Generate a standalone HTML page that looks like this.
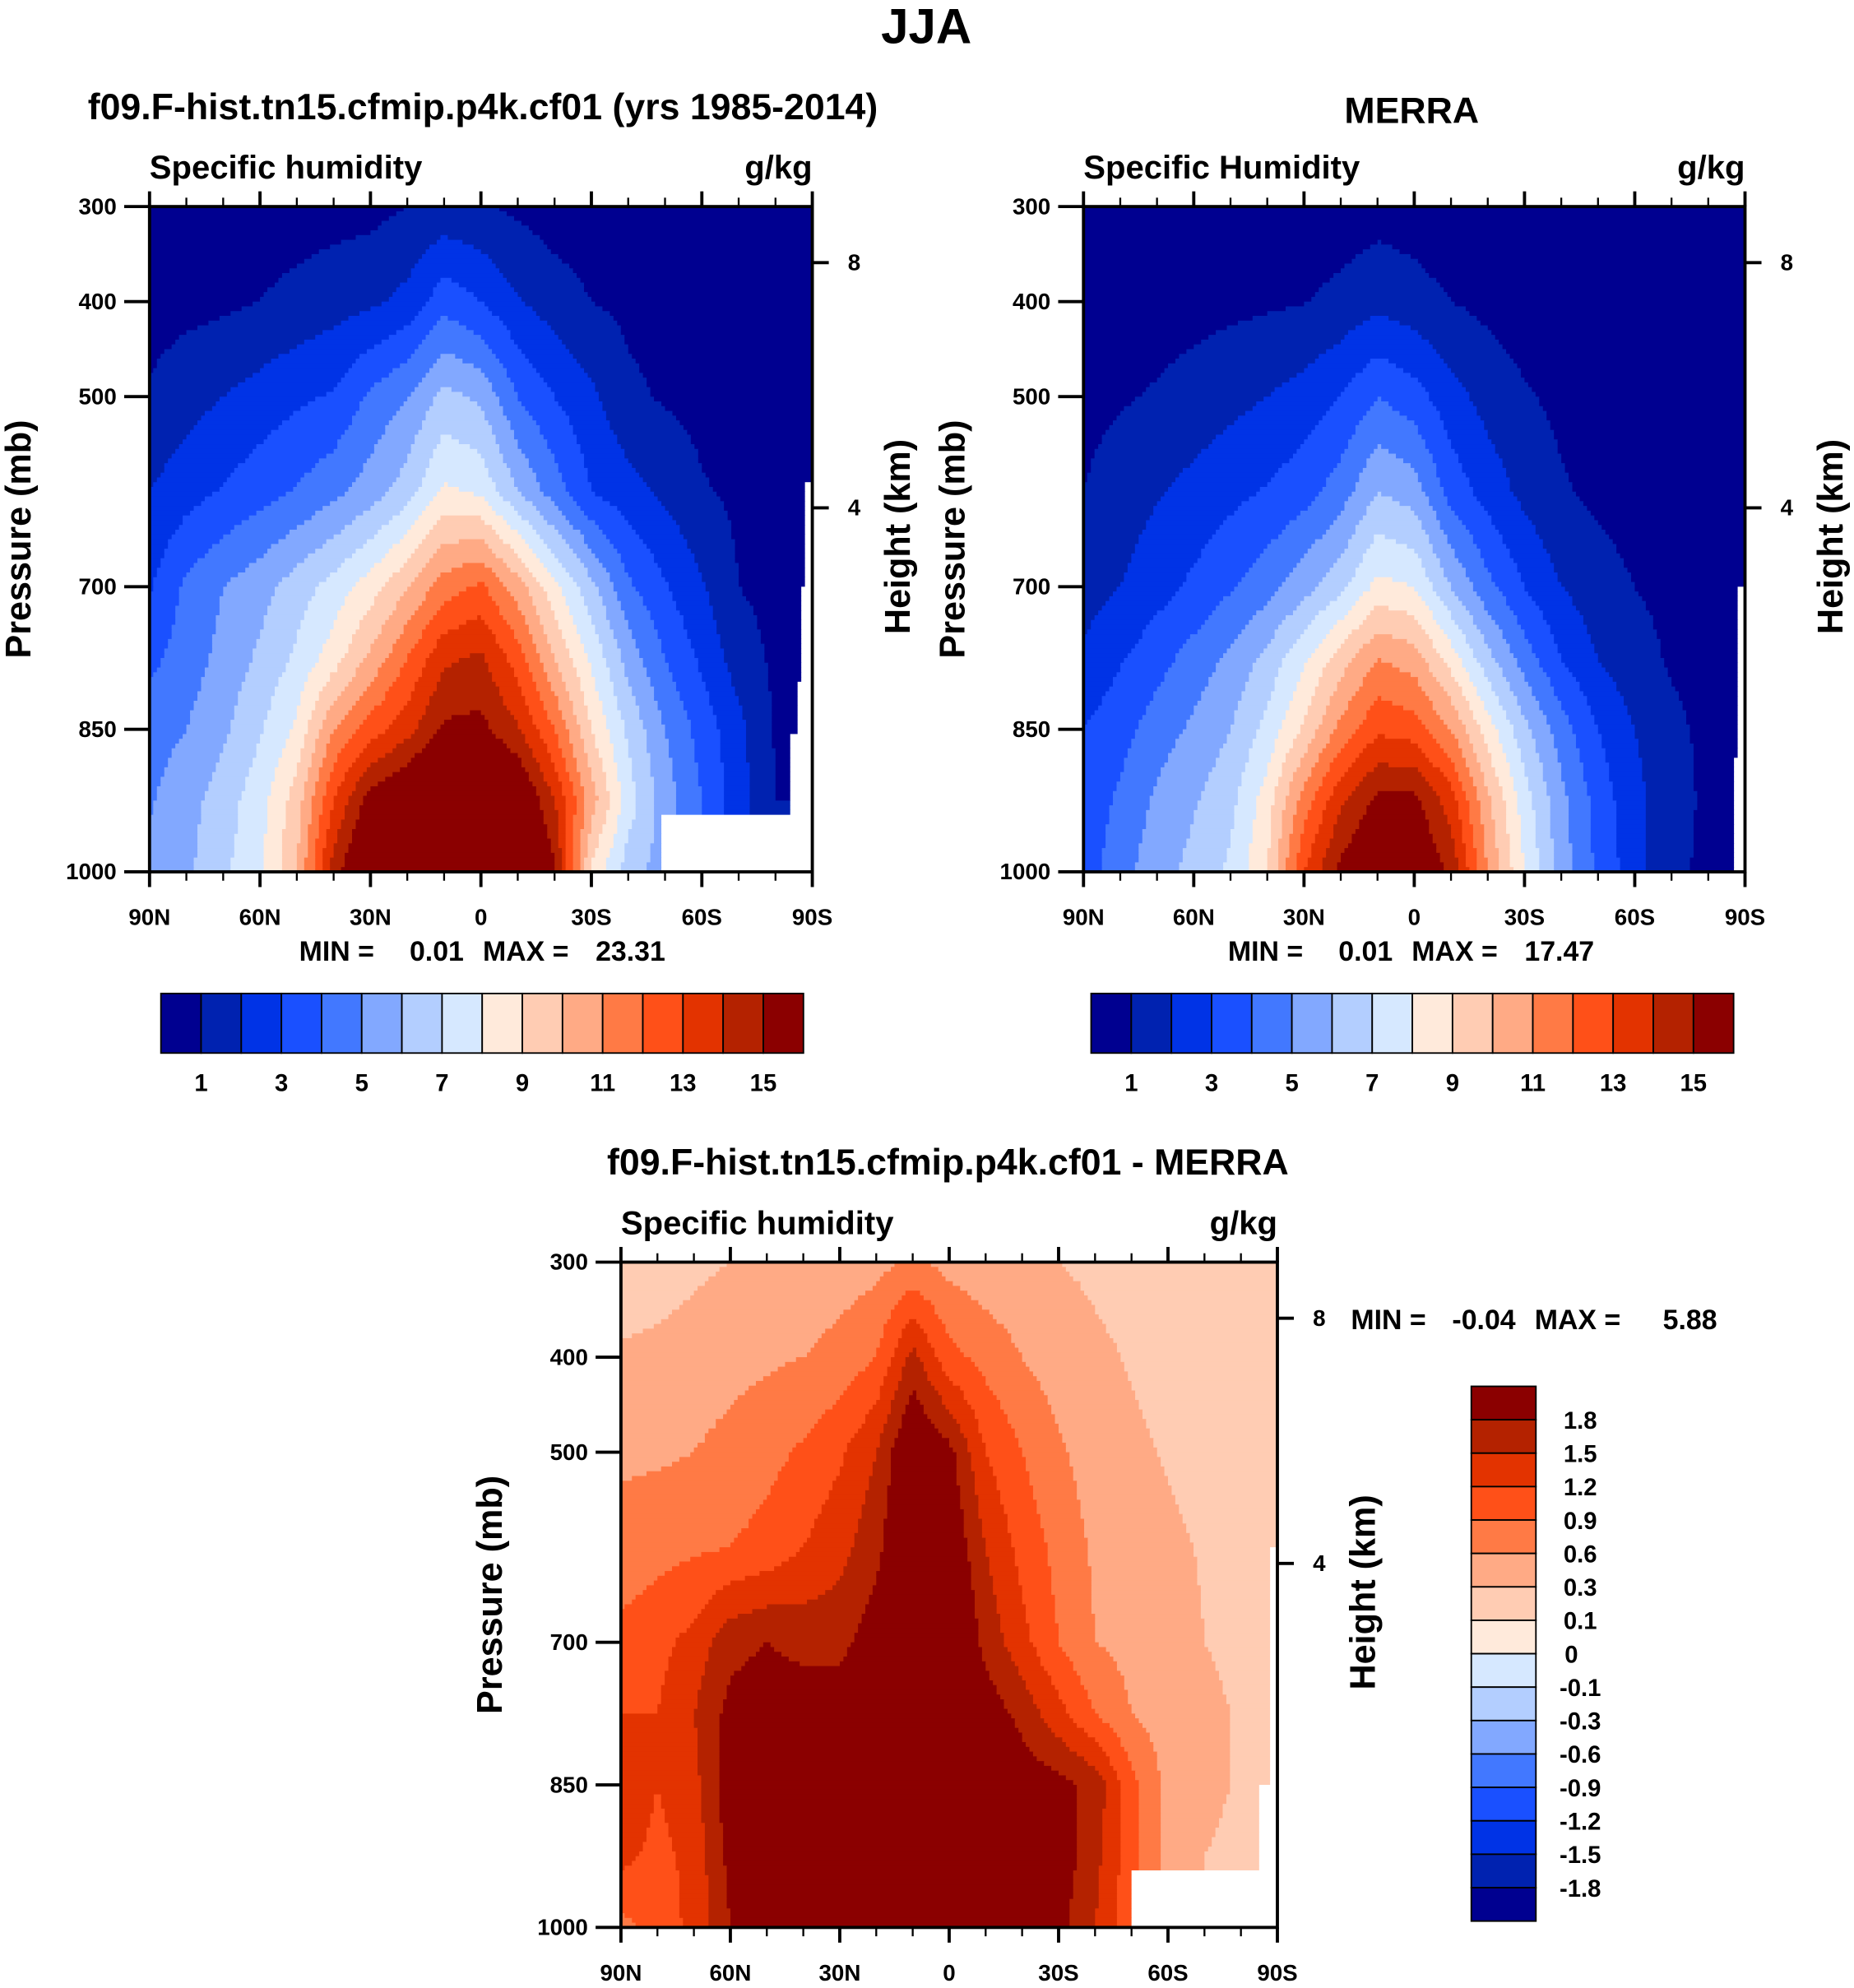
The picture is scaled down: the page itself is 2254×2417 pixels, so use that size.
<!DOCTYPE html>
<html><head><meta charset="utf-8"><style>
html,body{margin:0;padding:0;background:#fff}
svg{display:block}
text{font-family:"Liberation Sans",Arial,sans-serif;font-weight:bold;fill:#000}
</style></head><body>
<svg id="fig" xmlns="http://www.w3.org/2000/svg" width="2254" height="2417" viewBox="0 0 1463 1568.8">
<rect x="0" y="0" width="1463" height="1569" fill="#fff"/>
<text x="731" y="34" font-size="39" text-anchor="middle">JJA</text>
<g id="layer"></g>
</svg>
<script>
// ---------- data ----------
const lats=[90,80,70,60,50,40,30,20,10,0,-10,-20,-30,-40,-50,-60,-70,-80,-90];
const pressures=[300,400,500,600,700,775,850,925,1000];
const modelQ=[
[0.3,0.3,0.4,0.5,0.5,0.6,0.7,1.0,1.3,1.1,0.8,0.5,0.4,0.3,0.3,0.2,0.2,0.2,0.2],
[0.6,0.7,0.8,1.0,1.3,1.6,1.8,2.3,3.6,3.0,2.1,1.5,1.0,0.8,0.6,0.5,0.4,0.4,0.4],
[1.1,1.6,2.0,2.4,2.8,3.1,4.2,5.0,6.3,5.8,4.0,3.0,2.2,1.2,0.9,0.7,0.6,0.5,0.5],
[2.0,2.6,3.1,3.6,4.1,4.7,5.5,6.5,8.2,7.8,6.0,4.5,3.0,2.4,1.8,1.1,0.8,0.6,0.6],
[2.9,4.2,5.0,5.6,6.5,7.4,8.5,9.9,11.5,12.2,10.5,8.3,6.3,4.2,3.1,2.1,1.0,0.7,0.7],
[3.7,4.5,5.3,6.2,7.2,8.5,10.2,12.0,13.8,14.2,12.5,10.0,7.8,5.6,4.0,2.8,1.5,0.8,0.8],
[4.6,5.0,5.8,6.9,8.2,11.0,12.5,13.6,15.2,15.3,14.1,12.0,9.0,6.8,5.0,3.6,2.3,0.9,0.9],
[4.9,5.6,6.5,7.6,9.5,13.0,15.5,16.5,17.5,17.5,16.5,14.0,10.5,7.5,5.5,4.0,2.4,1.0,1.0],
[5.2,5.8,6.8,7.8,10.0,14.5,17.0,18.5,19.0,19.0,17.5,15.2,8.8,6.5,5.5,4.0,2.4,1.0,1.0]];
const merraQ=[
[0.2,0.2,0.2,0.2,0.2,0.2,0.3,0.4,0.6,0.5,0.3,0.2,0.2,0.2,0.2,0.2,0.2,0.2,0.2],
[0.35,0.45,0.55,0.65,0.75,0.85,0.95,1.3,1.7,1.4,1.0,0.75,0.55,0.45,0.4,0.4,0.4,0.4,0.4],
[0.7,0.9,1.1,1.4,1.7,2.0,2.4,3.0,4.0,3.4,2.4,1.6,1.1,0.8,0.6,0.5,0.4,0.4,0.4],
[1.0,1.5,1.9,2.3,2.7,3.1,3.6,4.5,6.0,5.5,3.6,2.6,1.7,1.1,0.8,0.6,0.5,0.5,0.5],
[1.5,2.0,2.6,3.2,3.9,4.6,5.6,6.7,8.3,8.0,6.0,4.3,3.0,2.0,1.4,1.0,0.8,0.6,0.6],
[2.2,2.9,3.6,4.4,5.2,6.3,7.8,9.5,11.0,10.5,8.5,6.3,4.5,3.0,2.0,1.3,0.9,0.7,0.7],
[3.0,3.6,4.5,5.2,6.0,7.3,9.2,11.3,12.8,12.5,11.0,8.5,6.3,4.5,3.0,2.0,1.2,0.8,0.8],
[3.3,4.2,5.2,5.9,6.7,8.5,11.5,13.8,15.3,15.3,13.5,10.2,7.5,5.3,3.6,2.3,1.4,0.8,0.8],
[3.5,4.6,5.6,6.3,7.2,9.0,13.0,15.3,16.5,16.3,14.8,11.0,8.0,5.5,3.8,2.4,1.2,0.8,0.8]];
const diffQ=[
[0.2,0.2,0.25,0.3,0.35,0.4,0.45,0.5,0.65,0.5,0.4,0.35,0.3,0.25,0.2,0.2,0.2,0.2,0.2],
[0.32,0.35,0.4,0.5,0.55,0.6,0.7,0.9,1.6,1.0,0.8,0.6,0.45,0.35,0.28,0.2,0.15,0.1,0.1],
[0.55,0.55,0.6,0.7,0.8,0.95,1.15,1.5,2.2,1.9,1.2,0.9,0.65,0.45,0.35,0.28,0.2,0.1,0.15],
[0.7,0.8,0.85,0.9,1.0,1.2,1.4,1.7,2.3,2.1,1.5,1.1,0.8,0.55,0.45,0.35,0.28,0.2,0.2],
[1.0,1.1,1.3,1.7,1.8,1.7,1.7,2.0,2.4,2.3,1.7,1.3,0.9,0.6,0.5,0.4,0.3,0.25,0.2],
[1.2,1.2,1.5,1.9,2.0,2.0,2.0,2.2,2.4,2.3,2.0,1.7,1.3,0.9,0.6,0.45,0.35,0.28,0.2],
[1.5,1.2,1.4,2.0,2.1,2.1,2.2,2.3,2.4,2.4,2.2,2.0,1.9,1.7,1.0,0.5,0.35,0.28,0.25],
[1.3,1.1,1.3,1.9,2.1,2.2,2.3,2.4,2.5,2.5,2.3,2.1,2.0,1.6,1.0,0.5,0.3,0.25,0.2],
[0.8,1.0,1.3,1.8,2.1,2.3,2.4,2.5,2.5,2.5,2.3,2.1,1.9,1.5,1.0,0.5,0.3,0.25,0.2]];
// missing regions: [latitude (south of which), pressure (below which)]
const modelMissing=[[-49,940],[-84,855],[-86,800],[-87,700],[-88,590]];
const merraMissing=[[-87.5,700],[-86.5,880]];
const diffMissing=[[-50,940],[-85,850],[-88,600]];
const absLevels=[1,2,3,4,5,6,7,8,9,10,11,12,13,14,15];
const absLabels=["1","3","5","7","9","11","13","15"];
const diffLevels=[-1.8,-1.5,-1.2,-0.9,-0.6,-0.3,-0.1,0,0.1,0.3,0.6,0.9,1.2,1.5,1.8];
const diffLabels=["-1.8","-1.5","-1.2","-0.9","-0.6","-0.3","-0.1","0","0.1","0.3","0.6","0.9","1.2","1.5","1.8"];
const colors=["#000090","#0022b0","#0033e6","#1a50ff","#4278ff","#82a8ff","#b3ceff","#d6e8ff","#ffeadb","#ffccb3","#ffaa85","#ff7a45","#ff5018","#e33300","#b42200","#8b0000"];
const xTickLats=[90,60,30,0,-30,-60,-90];
const xTickLabels=["90N","60N","30N","0","30S","60S","90S"];
const pTicks=[300,400,500,700,850,1000];
const heightTicks=[[8,359],[4,617]];
const stats=[["0.01","23.31"],["0.01","17.47"],["-0.04","5.88"]];

// ---------- drawing ----------
const NS="http://www.w3.org/2000/svg";
const layer=document.getElementById('layer');
function el(tag,attrs,parent){const e=document.createElementNS(NS,tag);for(const k in attrs)e.setAttribute(k,attrs[k]);(parent||layer).appendChild(e);return e;}
function txt(s,x,y,size,anchor,name,parent,rot){const t=el('text',{x:x,y:y,'font-size':size,'text-anchor':anchor||'start'},parent);if(rot)t.setAttribute('transform','rotate(-90 '+x+' '+y+')');t.textContent=s;return t;}
function sample(g,lat,p){
  let i=Math.min(17,Math.floor((90-lat)/10));let fx=(90-lat)/10-i;
  let j=0;while(j<pressures.length-2&&p>pressures[j+1])j++;
  let fy=(p-pressures[j])/(pressures[j+1]-pressures[j]);
  fx=Math.max(0,Math.min(1,fx));fy=Math.max(0,Math.min(1,fy));
  const a=g[j][i],b=g[j][i+1],c=g[j+1][i],d=g[j+1][i+1];
  return a*(1-fx)*(1-fy)+b*fx*(1-fy)+c*(1-fx)*fy+d*fx*fy;
}
function colorIdx(v,levels){let k=0;while(k<levels.length&&v>=levels[k])k++;return k;}
function panel(cfg){
  const g=el('g',{});
  
  
  const X=lat=>cfg.x0+(90-lat)/180*cfg.w;
  const Y=p=>cfg.y0+(p-300)/700*cfg.h;
  const dl=1,dp=5;
  for(let p=300;p<1000;p+=dp){
    let runStart=90,runC=null;
    const pc=p+dp/2;
    for(let lat=90;lat>=-90;lat-=dl){
      let c;
      if(lat>-90){const v=sample(cfg.grid,lat-dl/2,pc);c=colors[colorIdx(v,cfg.levels)];
        for(const m of cfg.missing){if(lat-dl/2<m[0]&&pc>m[1])c='#fff';}}
      if(lat===-90||c!==runC){
        if(runC!==null){const r=el('rect',{x:X(runStart),y:Y(p),width:X(lat)-X(runStart)+0.4,height:Y(p+dp)-Y(p)+0.4,fill:runC},g);
          
          }
        runStart=lat;runC=c;
      }
    }
  }
  const f=el('rect',{x:cfg.x0,y:cfg.y0,width:cfg.w,height:cfg.h,fill:'none',stroke:'#000','stroke-width':2.5},g);
  
  
  for(let lat=90;lat>=-90;lat-=10){
    const maj=lat%30===0,L=maj?12:7;
    el('line',{x1:X(lat),x2:X(lat),y1:cfg.y0,y2:cfg.y0-L,stroke:'#000','stroke-width':maj?2.5:1.5},g);
    el('line',{x1:X(lat),x2:X(lat),y1:cfg.y0+cfg.h,y2:cfg.y0+cfg.h+L,stroke:'#000','stroke-width':maj?2.5:1.5},g);
  }
  xTickLats.forEach((lat,i)=>txt(xTickLabels[i],X(lat),cfg.y0+cfg.h+42,18,'middle','x-tick-label',g));
  pTicks.forEach(p=>{el('line',{x1:cfg.x0,x2:cfg.x0-20,y1:Y(p),y2:Y(p),stroke:'#000','stroke-width':2.5},g);
    txt(String(p),cfg.x0-26,Y(p)+6,18,'end','y-tick-label',g);});
  heightTicks.forEach(h=>{el('line',{x1:cfg.x0+cfg.w,x2:cfg.x0+cfg.w+13,y1:Y(h[1]),y2:Y(h[1]),stroke:'#000','stroke-width':2.5},g);
    txt(String(h[0]),cfg.x0+cfg.w+28,Y(h[1])+6,18,'start','height-tick-label',g);});
  txt('Pressure (mb)',cfg.x0-94,cfg.y0+cfg.h/2,28,'middle','y-axis-title',g,true);
  txt('Height (km)',cfg.x0+cfg.w+77,cfg.y0+cfg.h/2-2,28,'middle','right-axis-title',g,true);
  txt(cfg.sub,cfg.x0,cfg.y0-22,26,'start','variable-label',g);
  txt('g/kg',cfg.x0+cfg.w,cfg.y0-22,26,'end','units-label',g);
  txt(cfg.title,cfg.titleX,cfg.titleY,29,'middle','panel-title',g);
  return {g,X,Y};
}
panel({name:'model-panel',x0:118,y0:163,w:523,h:525,grid:modelQ,levels:absLevels,missing:modelMissing,sub:'Specific humidity',title:'f09.F-hist.tn15.cfmip.p4k.cf01 (yrs 1985-2014)',titleX:381,titleY:94});
panel({name:'merra-panel',x0:855,y0:163,w:522,h:525,grid:merraQ,levels:absLevels,missing:merraMissing,sub:'Specific Humidity',title:'MERRA',titleX:1114,titleY:97});
panel({name:'diff-panel',x0:490,y0:996,w:518,h:525,grid:diffQ,levels:diffLevels,missing:diffMissing,sub:'Specific humidity',title:'f09.F-hist.tn15.cfmip.p4k.cf01 - MERRA',titleX:748,titleY:927});
function statsText(x,y,s,name){
  txt('MIN =',x,y,22,'start',name+'-min-label');
  txt(s[0],x+130,y,22,'end',name+'-min-value');
  txt('MAX =',x+145,y,22,'start',name+'-max-label');
  txt(s[1],x+289,y,22,'end',name+'-max-value');
}
statsText(236,758,stats[0],'model-stats');
statsText(969,758,stats[1],'merra-stats');
statsText(1066,1049,stats[2],'diff-stats');
function hbar(x0,name){
  const w=507/16;
  colors.forEach((c,i)=>{const r=el('rect',{x:x0+i*w,y:784,width:w,height:47,fill:c,stroke:'#000','stroke-width':1.2});
    
    });
  absLabels.forEach(s=>{const lv=Number(s);txt(s,x0+lv*w,861,19,'middle',name+'-label');});
}
hbar(127,'model-colorbar');
hbar(861,'merra-colorbar');
(function(){
  const y0=1094,h=(1516-1094)/16;
  colors.slice().reverse().forEach((c,i)=>{const r=el('rect',{x:1161,y:y0+i*h,width:51,height:h,fill:c,stroke:'#000','stroke-width':1.2});
    
    });
  diffLabels.slice().reverse().forEach((s,i)=>{txt(s,s==='0'?1240:1247,y0+(i+1)*h+7,19,'middle','diff-colorbar-label');});
})();
</script>
</body></html>
